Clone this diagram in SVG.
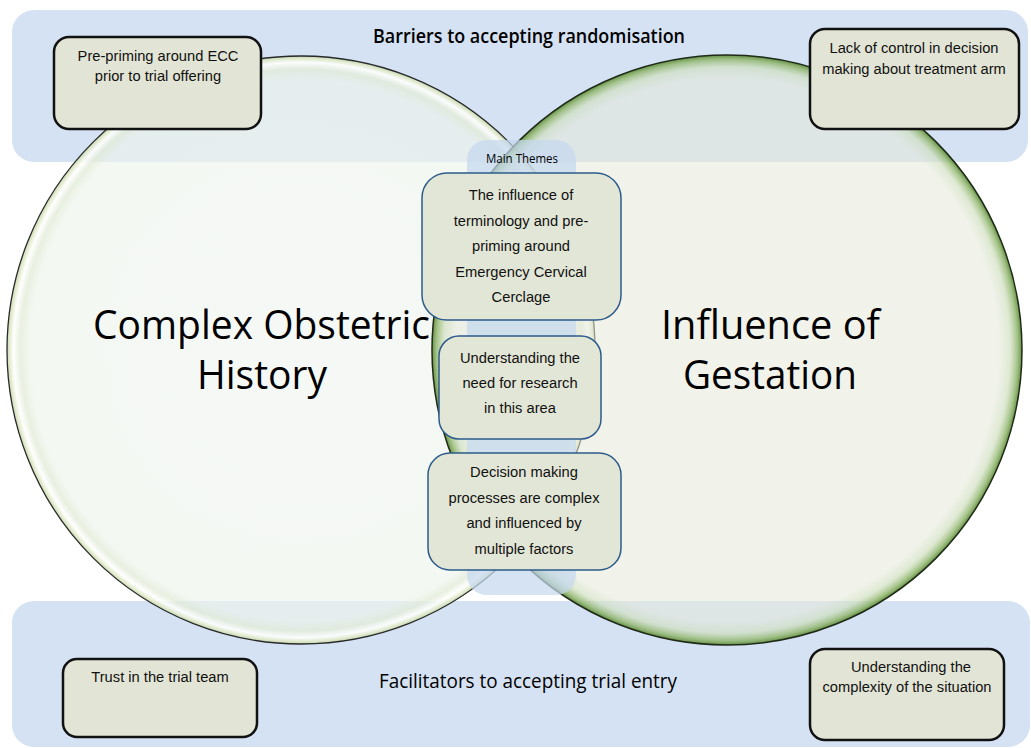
<svg xmlns="http://www.w3.org/2000/svg" width="1031" height="748" viewBox="0 0 1031 748">
<defs>
<radialGradient id="gL" cx="0.5" cy="0.5" r="0.5">
<stop offset="0" stop-color="#f0f5f0" stop-opacity="0.65"/>
<stop offset="0.92" stop-color="#eef4ec" stop-opacity="0.65"/>
<stop offset="0.955" stop-color="#e3ecd8" stop-opacity="0.8"/>
<stop offset="0.978" stop-color="#ffffff" stop-opacity="0.9"/>
<stop offset="0.99" stop-color="#e4ecce" stop-opacity="0.9"/>
<stop offset="1" stop-color="#c2d6ab" stop-opacity="0.9"/>
</radialGradient>
<radialGradient id="gR" cx="0.5" cy="0.5" r="0.5">
<stop offset="0" stop-color="#e6e9da" stop-opacity="0.55"/>
<stop offset="0.92" stop-color="#e6e9da" stop-opacity="0.55"/>
<stop offset="0.96" stop-color="#cfdfbf" stop-opacity="0.7"/>
<stop offset="0.985" stop-color="#94b872" stop-opacity="0.85"/>
<stop offset="1" stop-color="#5e8c3c" stop-opacity="0.95"/>
</radialGradient>
<style>
.band{fill:#d5e2f3}
.cbox{fill:#e2e5d5;stroke:#111;stroke-width:2.5}
.mbox{fill:#e2e6d6;stroke:#2d5b8b;stroke-width:1.5}
.t{font-family:"Liberation Sans",Arial,sans-serif;font-size:14.7px;fill:#111;text-anchor:middle}
.h{font-family:"Open Sans","Noto Sans",sans-serif;fill:#000;text-anchor:middle}
</style>
</defs>
<g id="bands">
<rect id="barriers-band" class="band" x="12" y="10" width="1016" height="152" rx="22"/>
<rect id="facilitators-band" class="band" x="12" y="601" width="1018" height="146" rx="22"/>
</g>
<g id="circle-left">
<circle cx="301" cy="350" r="294" fill="url(#gL)" stroke="#2a2a2a" stroke-width="1.3"/>
</g>
<g id="circle-right">
<circle cx="727" cy="350" r="295" fill="url(#gR)" stroke="#1f2a18" stroke-width="1.5"/>
</g>
<g id="main-themes-band">
<rect x="467" y="140" width="109" height="455" rx="20" fill="#c5d8ef" fill-opacity="0.72"/>
<text class="h" x="522" y="163" font-size="12" textLength="72" lengthAdjust="spacingAndGlyphs">Main Themes</text>
</g>
<g id="headings">
<text class="h" x="529" y="43" font-size="20" font-weight="600" textLength="312" lengthAdjust="spacingAndGlyphs">Barriers to accepting randomisation</text>
<text class="h" x="528" y="688" font-size="20" textLength="298" lengthAdjust="spacingAndGlyphs">Facilitators to accepting trial entry</text>
<text class="h" x="261.5" y="339" font-size="41" textLength="337" lengthAdjust="spacingAndGlyphs">Complex Obstetric</text>
<text class="h" x="262" y="389" font-size="41" textLength="130" lengthAdjust="spacingAndGlyphs">History</text>
<text class="h" x="770.5" y="339" font-size="41" textLength="219" lengthAdjust="spacingAndGlyphs">Influence of</text>
<text class="h" x="770" y="389" font-size="41" textLength="174" lengthAdjust="spacingAndGlyphs">Gestation</text>
</g>
<g id="box-pre-priming">
<rect class="cbox" x="54" y="37" width="207" height="92" rx="15"/>
<text class="t" x="158" y="61">Pre-priming around ECC</text>
<text class="t" x="158" y="81">prior to trial offering</text>
</g>
<g id="box-lack-of-control">
<rect class="cbox" x="810" y="29" width="209" height="100" rx="15"/>
<text class="t" x="914" y="53">Lack of control in decision</text>
<text class="t" x="914" y="74">making about treatment arm</text>
</g>
<g id="box-trust">
<rect class="cbox" x="63" y="659" width="194" height="78" rx="14"/>
<text class="t" x="160" y="682">Trust in the trial team</text>
</g>
<g id="box-complexity">
<rect class="cbox" x="810" y="649" width="194" height="91" rx="15"/>
<text class="t" x="911" y="672">Understanding the</text>
<text class="t" x="907" y="692">complexity of the situation</text>
</g>
<g id="theme-terminology">
<rect class="mbox" x="422" y="173" width="199" height="147" rx="25"/>
<text class="t" x="521" y="200">The influence of</text>
<text class="t" x="521" y="225.5">terminology and pre-</text>
<text class="t" x="521" y="251">priming around</text>
<text class="t" x="521" y="276.5">Emergency Cervical</text>
<text class="t" x="521" y="302">Cerclage</text>
</g>
<g id="theme-research">
<rect class="mbox" x="439" y="336" width="162" height="103" rx="20"/>
<text class="t" x="520" y="363">Understanding the</text>
<text class="t" x="520" y="388">need for research</text>
<text class="t" x="520" y="413">in this area</text>
</g>
<g id="theme-decision">
<rect class="mbox" x="428" y="453" width="193" height="117" rx="22"/>
<text class="t" x="524" y="477">Decision making</text>
<text class="t" x="524" y="502.5">processes are complex</text>
<text class="t" x="524" y="528">and influenced by</text>
<text class="t" x="524" y="553.5">multiple factors</text>
</g>
<g id="connectors"></g>
</svg>
